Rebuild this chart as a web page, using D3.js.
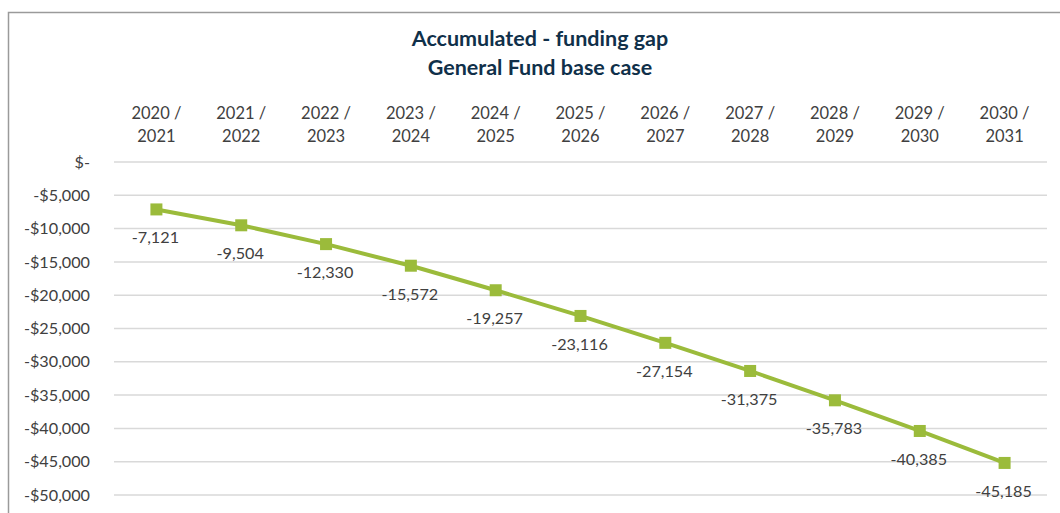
<!DOCTYPE html>
<html>
<head>
<meta charset="utf-8">
<script src="https://cdn.jsdelivr.net/npm/d3@7"></script>
<style>
  html, body { margin: 0; padding: 0; background: #fff; }
  svg { display: block; font-family: Lato, "Open Sans", sans-serif; }
</style>
</head>
<body>
<svg id="chart"></svg>
<script>
// chart data
const periods = ["2020 / 2021", "2021 / 2022", "2022 / 2023", "2023 / 2024", "2024 / 2025",
  "2025 / 2026", "2026 / 2027", "2027 / 2028", "2028 / 2029", "2029 / 2030", "2030 / 2031"];
const gap = [-7121, -9504, -12330, -15572, -19257, -23116, -27154, -31375, -35783, -40385, -45185];
const yTicks = [0, -5000, -10000, -15000, -20000, -25000, -30000, -35000, -40000, -45000, -50000];
const titleLines = ["Accumulated - funding gap", "General Fund base case"];

const width = 1060, height = 513;
const marginTop = 162, marginRight = 13, marginBottom = 18, marginLeft = 114;
const green = "#9bbb3b";

const svg = d3.select("#chart")
    .attr("width", width)
    .attr("height", height)
    .attr("viewBox", [0, 0, width, height]);

// chart frame (cut off at right and bottom like the screenshot)
svg.append("rect")
    .attr("x", 8.5).attr("y", 12.5)
    .attr("width", width + 20).attr("height", height + 20)
    .attr("fill", "none")
    .attr("stroke", "#9a9a9a")
    .attr("stroke-width", 1.5);

const x = d3.scaleBand()
    .domain(periods)
    .range([marginLeft, width - marginRight]);

const y = d3.scaleLinear()
    .domain([0, -50000])
    .range([marginTop, height - marginBottom]);

// title
svg.append("g")
    .attr("fill", "#10304a")
    .attr("font-weight", "bold")
    .attr("font-size", 21.5)
    .attr("text-anchor", "middle")
  .selectAll("text")
  .data(titleLines)
  .join("text")
    .attr("x", 540)
    .attr("y", (d, i) => 46 + i * 29)
    .text(d => d);

// gridlines
svg.append("g")
    .attr("stroke", "#d9d9d9")
    .attr("stroke-width", 1.5)
  .selectAll("line")
  .data(yTicks)
  .join("line")
    .attr("x1", marginLeft)
    .attr("x2", width - marginRight)
    .attr("y1", d => y(d))
    .attr("y2", d => y(d));

// y axis
const fmt = d3.format(",");
const yAxis = d3.axisLeft(y)
    .tickValues(yTicks)
    .tickSize(0)
    .tickPadding(24)
    .tickFormat(d => d === 0 ? "$-" : "-$" + fmt(-d));

svg.append("g")
    .attr("transform", `translate(${marginLeft},0)`)
    .call(yAxis)
    .call(g => g.select(".domain").remove())
    .call(g => g.selectAll("text")
        .attr("fill", "#404040")
        .attr("font-size", 16.2)
        .attr("font-family", "Lato, sans-serif"));

// x axis labels at top, two lines each
const xAxis = d3.axisTop(x).tickSize(0).tickFormat("");
svg.append("g")
    .attr("transform", `translate(0,${marginTop})`)
    .call(xAxis)
    .call(g => g.select(".domain").remove())
    .call(g => g.selectAll(".tick").each(function(d) {
      const parts = d.split(" / ");
      const t = d3.select(this).append("text")
          .attr("fill", "#404040")
          .attr("font-size", 16.5)
          .attr("font-family", "Lato, sans-serif")
          .attr("text-anchor", "middle");
      t.append("tspan").attr("x", 0).attr("y", -43).text(parts[0] + " /");
      t.append("tspan").attr("x", 0).attr("y", -20).text(parts[1]);
    }));

const cx = d => x(d) + x.bandwidth() / 2;

// line
const line = d3.line()
    .x((d, i) => cx(periods[i]))
    .y(d => y(d));

svg.append("path")
    .datum(gap)
    .attr("fill", "none")
    .attr("stroke", green)
    .attr("stroke-width", 4)
    .attr("stroke-linejoin", "round")
    .attr("d", line);

// square markers
const size = 12;
svg.append("g")
    .attr("fill", green)
  .selectAll("rect")
  .data(gap)
  .join("rect")
    .attr("x", (d, i) => cx(periods[i]) - size / 2)
    .attr("y", d => y(d) - size / 2)
    .attr("width", size)
    .attr("height", size);

// data labels below points
svg.append("g")
    .attr("fill", "#404040")
    .attr("font-size", 16.2)
    .attr("text-anchor", "middle")
  .selectAll("text")
  .data(gap)
  .join("text")
    .attr("x", (d, i) => cx(periods[i]) - 1)
    .attr("y", d => y(d) + 34)
    .text(d => fmt(d).replace("−", "-"));
</script>
</body>
</html>
